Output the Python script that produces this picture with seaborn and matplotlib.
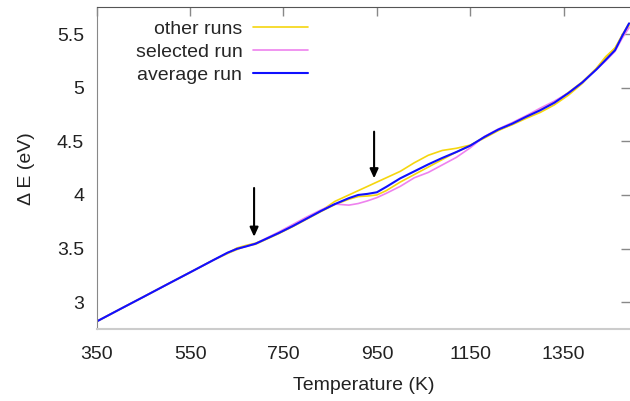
import matplotlib
matplotlib.use("Agg")
import matplotlib.pyplot as plt
import seaborn as sns
import pandas as pd

# temperature grid (K)
temperature = [350, 400, 450, 500, 550, 600, 630, 650, 670, 690, 710, 740, 770, 800,
               830, 860, 890, 910, 930, 950, 970, 1000, 1030, 1060, 1090, 1120, 1150,
               1180, 1210, 1240, 1270, 1300, 1330, 1360, 1390, 1420, 1440, 1460, 1475, 1490]

# Delta E (eV)
average_run = [2.82, 2.935, 3.049, 3.164, 3.278, 3.393, 3.461, 3.497, 3.52, 3.545, 3.585,
               3.645, 3.71, 3.78, 3.85, 3.915, 3.97, 4.00, 4.01, 4.025, 4.075, 4.155, 4.22,
               4.285, 4.345, 4.40, 4.46, 4.54, 4.61, 4.665, 4.73, 4.79, 4.86, 4.95, 5.05,
               5.17, 5.26, 5.35, 5.48, 5.60]

selected_run = [2.82, 2.935, 3.049, 3.164, 3.278, 3.393, 3.461, 3.497, 3.52, 3.545, 3.59,
                3.655, 3.725, 3.795, 3.86, 3.915, 3.905, 3.92, 3.945, 3.975, 4.015, 4.08,
                4.16, 4.21, 4.28, 4.35, 4.44, 4.545, 4.615, 4.675, 4.74, 4.81, 4.875, 4.95,
                5.05, 5.17, 5.25, 5.34, 5.46, 5.56]

other_run_1 = [2.82, 2.935, 3.049, 3.164, 3.278, 3.393, 3.455, 3.505, 3.53, 3.55, 3.585,
               3.645, 3.71, 3.78, 3.85, 3.94, 4.00, 4.04, 4.08, 4.12, 4.16, 4.22, 4.30,
               4.37, 4.415, 4.435, 4.465, 4.53, 4.60, 4.66, 4.725, 4.795, 4.865, 4.955,
               5.055, 5.18, 5.28, 5.37, 5.49, 5.60]

other_run_2 = [2.82, 2.935, 3.049, 3.164, 3.278, 3.393, 3.455, 3.49, 3.525, 3.54, 3.58,
               3.64, 3.705, 3.775, 3.845, 3.91, 3.96, 3.985, 3.99, 4.00, 4.04, 4.12, 4.19,
               4.26, 4.33, 4.40, 4.46, 4.54, 4.605, 4.655, 4.715, 4.77, 4.84, 4.93, 5.04,
               5.18, 5.29, 5.37, 5.47, 5.58]

# arrows marking the features
arrow_T = [687, 944]
arrow_start = [4.065, 4.59]
arrow_end = [3.61, 4.155]

xticks = [350, 550, 750, 950, 1150, 1350]
yticks = [3, 3.5, 4, 4.5, 5, 5.5]
ytick_labels = ["3", "3.5", "4", "4.5", "5", "5.5"]

sns.set_style("white")
plt.rcParams['font.family'] = ['Liberation Sans', 'DejaVu Sans']

fig = plt.figure(figsize=(6.3, 4.01), dpi=100)
ax = fig.add_axes([0.1535, 0.1796, 0.8465, 0.8022])

df = pd.DataFrame({"T": temperature, "avg": average_run, "sel": selected_run,
                   "o1": other_run_1, "o2": other_run_2})

sns.lineplot(data=df, x="T", y="o1", color="#f5d60f", lw=1.2, label="other runs", ax=ax)
sns.lineplot(data=df, x="T", y="o2", color="#f5d60f", lw=1.2, ax=ax)
sns.lineplot(data=df, x="T", y="sel", color="#ee82ee", lw=1.2, label="selected run", ax=ax)
sns.lineplot(data=df, x="T", y="avg", color="#1010ff", lw=1.5, label="average run", ax=ax)

for t, y0, y1 in zip(arrow_T, arrow_start, arrow_end):
    ax.annotate("", xy=(t, y1), xytext=(t, y0),
                arrowprops=dict(arrowstyle="-|>,head_length=0.55,head_width=0.25",
                                color="black", lw=1.5, shrinkA=0, shrinkB=0))

ax.set_xlim(350, 1492)
ax.set_ylim(2.75, 5.75)
ax.set_xticks(xticks)
ax.set_yticks(yticks)
ax.set_yticklabels(ytick_labels)

fs = 14
ax.tick_params(axis="both", direction="in", length=6.5, width=1, color="#888888",
               labelsize=fs, labelcolor="#222222", top=True, right=True)
ax.tick_params(axis="y", pad=9)
ax.tick_params(axis="x", pad=12)

ax.spines["top"].set_color("#555555")
ax.spines["left"].set_color("#888888")
ax.spines["bottom"].set_color("#cccccc")
ax.spines["bottom"].set_linewidth(1.5)
ax.spines["right"].set_visible(False)

ax.set_xlabel("Temperature (K)", fontsize=fs, color="#222222", labelpad=10)
ax.set_ylabel("Δ E (eV)", fontsize=fs, color="#222222", labelpad=16)

leg = ax.legend(loc="upper right", bbox_to_anchor=(0.4225, 1.002), frameon=False,
                markerfirst=False, fontsize=fs, handlelength=2.85,
                handletextpad=0.55, labelspacing=0.28, borderpad=0.2)

fig.savefig("out.png", dpi=100)
